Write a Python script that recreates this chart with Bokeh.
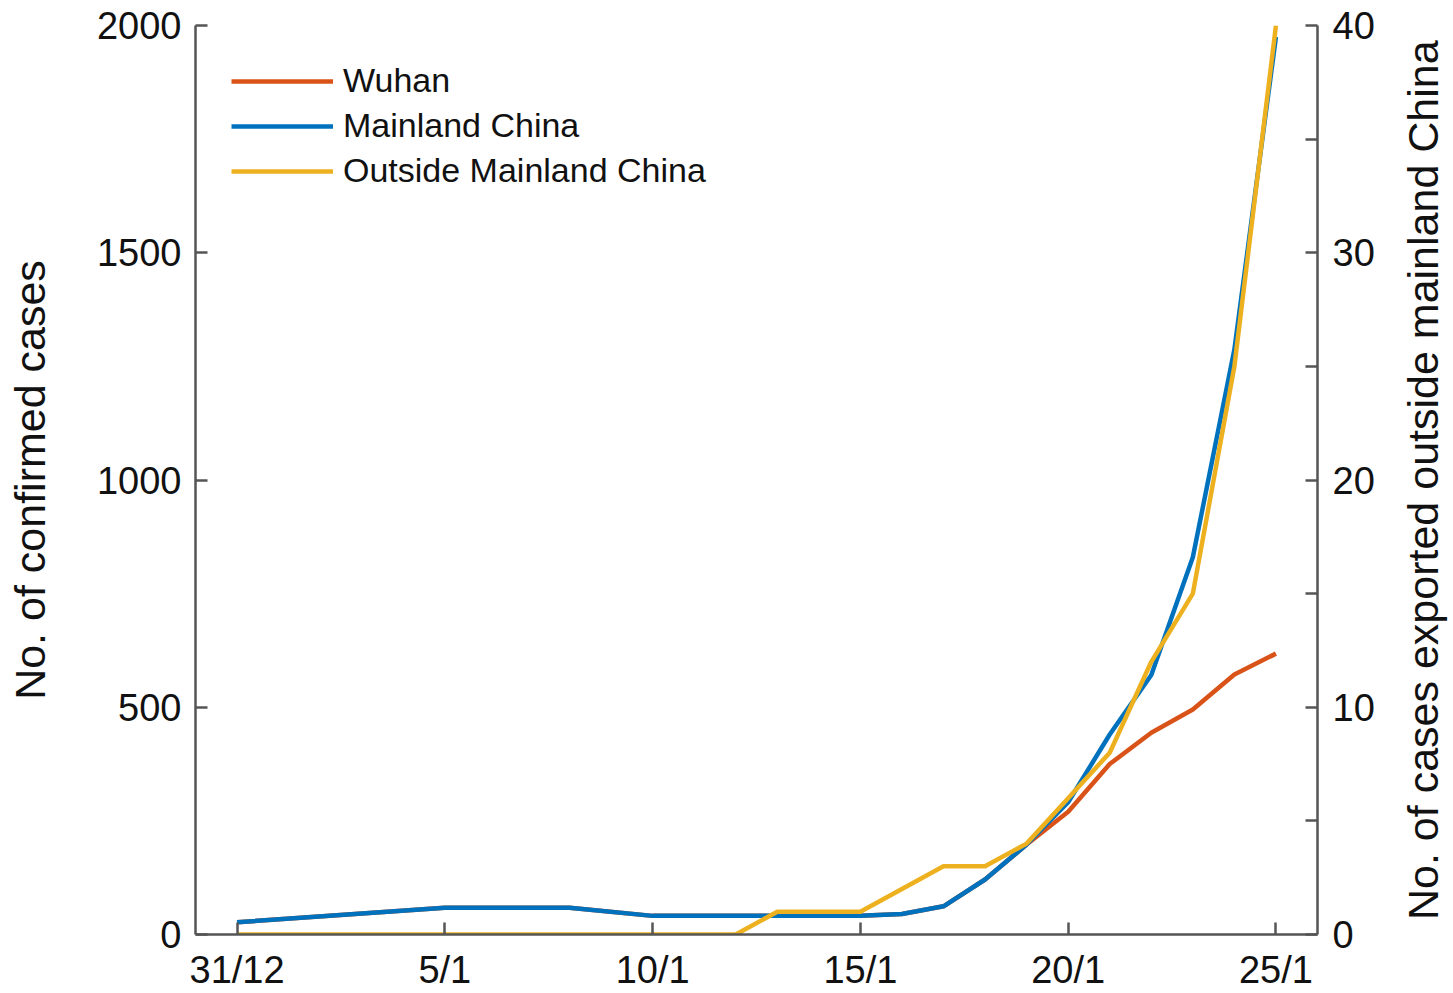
from bokeh.plotting import figure
from bokeh.models import Range1d, LinearAxis, FixedTicker, Legend, LegendItem, Div
from bokeh.layouts import row
from bokeh.embed import file_html
from bokeh.resources import INLINE

# ---- data ----
x_tick_days = [0, 5, 10, 15, 20, 25]
x_tick_labels = ["31/12", "5/1", "10/1", "15/1", "20/1", "25/1"]

# days since 31/12
wuhan_days = [0, 5, 8, 10, 15, 16, 17, 18, 19, 20, 21, 22, 23, 24, 25]
wuhan_cases = [27, 59, 59, 41, 41, 45, 62, 121, 198, 270, 375, 444, 495, 572, 618]

mainland_days = [0, 5, 8, 10, 15, 16, 17, 18, 19, 20, 21, 22, 23, 24, 25]
mainland_cases = [27, 59, 59, 41, 41, 45, 62, 121, 198, 291, 440, 571, 830, 1287, 1975]

outside_days = [0, 12, 13, 15, 17, 18, 19, 20, 21, 22, 23, 24, 25]
outside_cases = [0, 0, 1, 1, 3, 3, 4, 6, 8, 12, 15, 25, 40]

left_ticks = [0, 500, 1000, 1500, 2000]
right_ticks = [0, 10, 20, 30, 40]
right_minor = [5, 15, 25, 35]

left_title = "No. of confirmed cases"
right_title = "No. of cases exported outside mainland China"

RED = "#D95319"
BLUE = "#0072BD"
YELLOW = "#EDB120"
AX = "#555555"
TXT = "#111111"
FONT = "Liberation Sans"

p = figure(width=1400, height=993, output_backend="svg", toolbar_location=None,
           x_range=Range1d(-1, 26), y_range=Range1d(0, 2000),
           min_border_left=195, min_border_right=83, min_border_top=25, min_border_bottom=58)
p.outline_line_color = None
p.grid.visible = False
p.background_fill_color = "white"
p.border_fill_color = "white"

p.extra_y_ranges = {"right": Range1d(0, 40)}

r_w = p.line(wuhan_days, wuhan_cases, line_color=RED, line_width=4.5)
r_m = p.line(mainland_days, mainland_cases, line_color=BLUE, line_width=4.5)
r_o = p.line(outside_days, outside_cases, line_color=YELLOW, line_width=4.5, y_range_name="right")

# axes styling
def style(ax, ticks_in=12):
    ax.axis_line_color = AX
    ax.axis_line_width = 2.5
    ax.major_tick_line_color = AX
    ax.major_tick_line_width = 2.5
    ax.minor_tick_line_color = AX
    ax.minor_tick_line_width = 2.5
    ax.major_tick_in = ticks_in
    ax.major_tick_out = 0
    ax.minor_tick_in = 0
    ax.minor_tick_out = 0
    ax.major_label_text_font = FONT
    ax.major_label_text_font_size = "38px"
    ax.major_label_text_color = TXT
    ax.axis_label_text_font = FONT
    ax.axis_label_text_font_size = "43px"
    ax.axis_label_text_font_style = "normal"
    ax.axis_label_text_color = TXT

xa = p.xaxis[0]
style(xa)
xa.ticker = FixedTicker(ticks=x_tick_days)
xa.major_label_overrides = {d: l for d, l in zip(x_tick_days, x_tick_labels)}
xa.major_label_standoff = 14

ya = p.yaxis[0]
style(ya)
ya.ticker = FixedTicker(ticks=left_ticks)
ya.major_label_standoff = 14
ya.axis_label = left_title
ya.axis_label_standoff = 40

ra = LinearAxis(y_range_name="right", ticker=FixedTicker(ticks=right_ticks, minor_ticks=right_minor))
style(ra)
ra.minor_tick_in = 12
ra.major_label_standoff = 15
p.add_layout(ra, "right")

legend = Legend(items=[LegendItem(label="Wuhan", renderers=[r_w]),
                       LegendItem(label="Mainland China", renderers=[r_m]),
                       LegendItem(label="Outside Mainland China", renderers=[r_o])],
                location="top_left")
legend.background_fill_alpha = 0
legend.border_line_color = None
legend.margin = 36
legend.padding = 0
legend.spacing = 6
legend.glyph_width = 102
legend.glyph_height = 34
legend.label_height = 34
legend.label_standoff = 10
legend.label_text_font = FONT
legend.label_text_font_size = "34px"
legend.label_text_color = TXT
p.add_layout(legend)

# right-hand axis title, reading bottom to top
right_div = Div(
    text=('<div style="height:910px; margin-top:25px; display:flex; align-items:center; '
          'justify-content:center; writing-mode:vertical-rl; transform:rotate(180deg); '
          f'font-family:\'{FONT}\'; font-size:43px; color:{TXT}; white-space:nowrap; '
          f'line-height:1.1;">{right_title}</div>'),
    width=53, height=993, margin=0)

layout = row(p, right_div, spacing=0)

open("out.html", "w").write(file_html(layout, INLINE))
